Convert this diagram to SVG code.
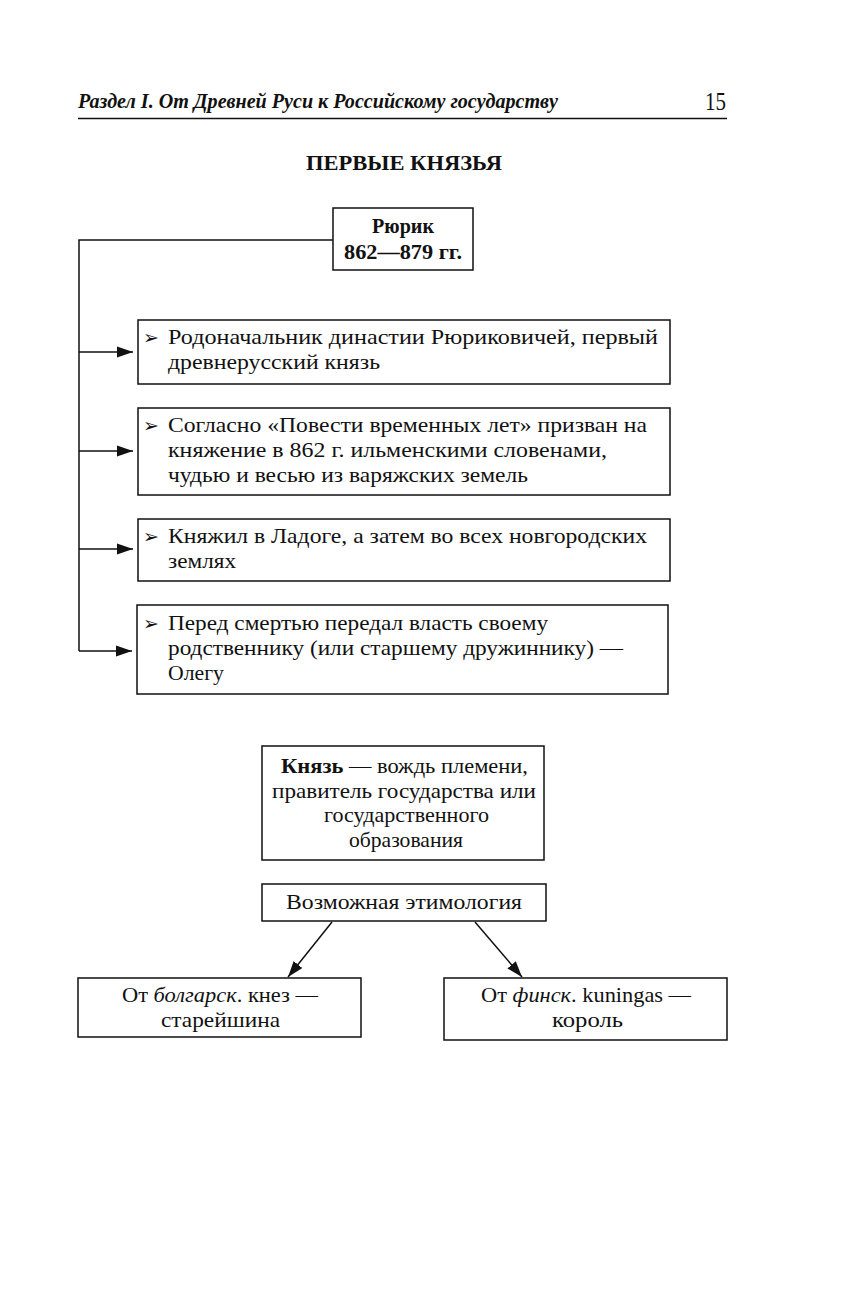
<svg xmlns="http://www.w3.org/2000/svg" width="845" height="1312" viewBox="0 0 845 1312">
<style>
text{font-family:"Liberation Serif","Times New Roman",serif;fill:#111}
.b{fill:#fff;stroke:#111;stroke-width:1.5}
.t{font-size:21px}
.bu{font-family:"DejaVu Sans",sans-serif;font-size:19px}
.ln{stroke:#111;stroke-width:1.5;fill:none}
</style>
<defs>
<marker id="ar2" viewBox="0 0 16 12" refX="16" refY="6" markerWidth="16" markerHeight="12" markerUnits="userSpaceOnUse" orient="auto">
<path d="M0,0.5 L16,6 L0,11.5 Z" fill="#111"/>
</marker>
</defs>
<rect width="845" height="1312" fill="#fff"/>
<g id="header">
<text x="78" y="108" font-size="20" font-style="italic" font-weight="bold" textLength="480" lengthAdjust="spacingAndGlyphs">Раздел I. От Древней Руси к Российскому государству</text>
<text x="705" y="110" font-size="26" textLength="21" lengthAdjust="spacingAndGlyphs">15</text>
<line x1="78" y1="118.5" x2="727" y2="118.5" stroke="#111" stroke-width="1.3"/>
<text x="306" y="170" font-size="20" font-weight="bold" textLength="196" lengthAdjust="spacingAndGlyphs">ПЕРВЫЕ КНЯЗЬЯ</text>
</g>
<g id="connectors">
<polyline class="ln" points="333,240 79,240 79,651"/>
<line class="ln" x1="79" y1="352" x2="133" y2="352" marker-end="url(#ar2)"/>
<line class="ln" x1="79" y1="451" x2="133" y2="451" marker-end="url(#ar2)"/>
<line class="ln" x1="79" y1="549" x2="133" y2="549" marker-end="url(#ar2)"/>
<line class="ln" x1="79" y1="651" x2="132" y2="651" marker-end="url(#ar2)"/>
<line class="ln" x1="332" y1="922" x2="288" y2="977" marker-end="url(#ar2)"/>
<line class="ln" x1="475" y1="922" x2="522" y2="977" marker-end="url(#ar2)"/>
</g>
<g id="rurik">
<rect class="b" x="333" y="208" width="140" height="62"/>
<text x="372" y="233" font-size="20" font-weight="bold" textLength="62" lengthAdjust="spacingAndGlyphs">Рюрик</text>
<text x="344" y="259" font-size="20" font-weight="bold" textLength="118" lengthAdjust="spacingAndGlyphs">862—879 гг.</text>
</g>
<g id="fact1">
<rect class="b" x="138" y="320" width="532" height="64"/>
<text class="bu" x="143" y="344">➢</text>
<text class="t" x="168" y="344" textLength="490" lengthAdjust="spacingAndGlyphs">Родоначальник династии Рюриковичей, первый</text>
<text class="t" x="168" y="369" textLength="212" lengthAdjust="spacingAndGlyphs">древнерусский князь</text>
</g>
<g id="fact2">
<rect class="b" x="138" y="408" width="532" height="87"/>
<text class="bu" x="143" y="432">➢</text>
<text class="t" x="168" y="432" textLength="479" lengthAdjust="spacingAndGlyphs">Согласно «Повести временных лет» призван на</text>
<text class="t" x="168" y="457" textLength="439" lengthAdjust="spacingAndGlyphs">княжение в 862 г. ильменскими словенами,</text>
<text class="t" x="168" y="482" textLength="360" lengthAdjust="spacingAndGlyphs">чудью и весью из варяжских земель</text>
</g>
<g id="fact3">
<rect class="b" x="138" y="519" width="532" height="62"/>
<text class="bu" x="143" y="543">➢</text>
<text class="t" x="168" y="543" textLength="479" lengthAdjust="spacingAndGlyphs">Княжил в Ладоге, а затем во всех новгородских</text>
<text class="t" x="168" y="568" textLength="68" lengthAdjust="spacingAndGlyphs">землях</text>
</g>
<g id="fact4">
<rect class="b" x="137" y="605" width="531" height="89"/>
<text class="bu" x="143" y="630">➢</text>
<text class="t" x="168" y="630" textLength="380" lengthAdjust="spacingAndGlyphs">Перед смертью передал власть своему</text>
<text class="t" x="168" y="655" textLength="455" lengthAdjust="spacingAndGlyphs">родственнику (или старшему дружиннику) —</text>
<text class="t" x="168" y="680" textLength="56" lengthAdjust="spacingAndGlyphs">Олегу</text>
</g>
<g id="knyaz">
<rect class="b" x="262" y="746" width="282" height="114"/>
<text class="t" x="281" y="773" textLength="247" lengthAdjust="spacingAndGlyphs"><tspan font-weight="bold">Князь</tspan> — вождь племени,</text>
<text class="t" x="272" y="798" textLength="264" lengthAdjust="spacingAndGlyphs">правитель государства или</text>
<text class="t" x="324" y="822" textLength="165" lengthAdjust="spacingAndGlyphs">государственного</text>
<text class="t" x="349" y="847" textLength="114" lengthAdjust="spacingAndGlyphs">образования</text>
</g>
<g id="etym">
<rect class="b" x="262" y="884" width="284" height="37"/>
<text class="t" x="286" y="909" textLength="236" lengthAdjust="spacingAndGlyphs">Возможная этимология</text>
</g>
<g id="bulg">
<rect class="b" x="78" y="978" width="283" height="59"/>
<text class="t" x="122" y="1002" textLength="196" lengthAdjust="spacingAndGlyphs">От <tspan font-style="italic">болгарск</tspan>. кнез —</text>
<text class="t" x="161" y="1027" textLength="119" lengthAdjust="spacingAndGlyphs">старейшина</text>
</g>
<g id="fin">
<rect class="b" x="444" y="978" width="283" height="62"/>
<text class="t" x="481" y="1002" textLength="210" lengthAdjust="spacingAndGlyphs">От <tspan font-style="italic">финск</tspan>. kuningas —</text>
<text class="t" x="552" y="1027" textLength="71" lengthAdjust="spacingAndGlyphs">король</text>
</g>
</svg>
